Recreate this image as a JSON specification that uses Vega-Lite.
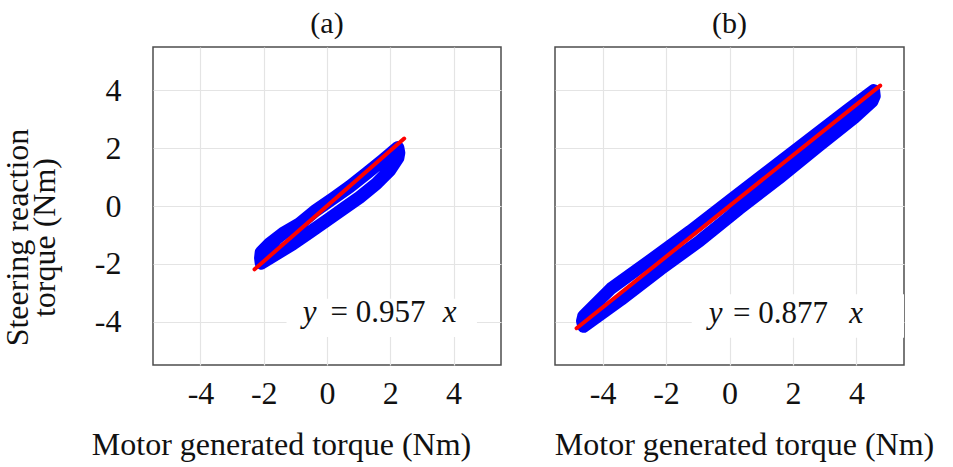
{
  "$schema": "https://vega.github.io/schema/vega-lite/v6.json",
  "background": "white",
  "padding": {"left": 0, "top": 8, "right": 5, "bottom": 5},
  "datasets": {
    "loopA": [
      {"o": 1, "x": -2.08, "y": -1.6},
      {"o": 2, "x": -1.81, "y": -1.3},
      {"o": 3, "x": -1.39, "y": -0.95},
      {"o": 4, "x": -0.86, "y": -0.61},
      {"o": 5, "x": -0.34, "y": -0.14},
      {"o": 6, "x": 0.19, "y": 0.26},
      {"o": 7, "x": 0.72, "y": 0.67},
      {"o": 8, "x": 1.25, "y": 1.13},
      {"o": 9, "x": 1.77, "y": 1.59},
      {"o": 10, "x": 2.24, "y": 2.02},
      {"o": 11, "x": 2.27, "y": 1.84},
      {"o": 12, "x": 2.24, "y": 1.66},
      {"o": 13, "x": 1.98, "y": 1.23},
      {"o": 14, "x": 1.56, "y": 0.77},
      {"o": 15, "x": 1.03, "y": 0.3},
      {"o": 16, "x": 0.51, "y": -0.1},
      {"o": 17, "x": -0.02, "y": -0.51},
      {"o": 18, "x": -0.55, "y": -0.91},
      {"o": 19, "x": -1.08, "y": -1.31},
      {"o": 20, "x": -1.6, "y": -1.66},
      {"o": 21, "x": -2.08, "y": -1.98},
      {"o": 22, "x": -2.1, "y": -1.8},
      {"o": 23, "x": -2.08, "y": -1.6}
    ],
    "loopB": [
      {"o": 1, "x": -4.6, "y": -3.8},
      {"o": 2, "x": -3.73, "y": -2.85},
      {"o": 3, "x": -2.48, "y": -1.86},
      {"o": 4, "x": -1.24, "y": -0.87},
      {"o": 5, "x": 0, "y": 0.18},
      {"o": 6, "x": 1.24, "y": 1.23},
      {"o": 7, "x": 2.48, "y": 2.28},
      {"o": 8, "x": 3.73, "y": 3.33},
      {"o": 9, "x": 4.55, "y": 4.0},
      {"o": 10, "x": 4.57, "y": 3.8},
      {"o": 11, "x": 4.5, "y": 3.62},
      {"o": 12, "x": 3.93, "y": 3.05},
      {"o": 13, "x": 2.8, "y": 2.06},
      {"o": 14, "x": 1.55, "y": 0.95},
      {"o": 15, "x": 0.31, "y": -0.1},
      {"o": 16, "x": -0.93, "y": -1.2},
      {"o": 17, "x": -2.17, "y": -2.19},
      {"o": 18, "x": -3.42, "y": -3.24},
      {"o": 19, "x": -4.6, "y": -4.17},
      {"o": 20, "x": -4.64, "y": -3.98},
      {"o": 21, "x": -4.6, "y": -3.8}
    ],
    "fitA": [{"x": -2.29, "y": -2.19}, {"x": 2.44, "y": 2.335}],
    "fitB": [{"x": -4.82, "y": -4.227}, {"x": 4.75, "y": 4.166}],
    "boxA": [{"x": -1.28, "x2": 4.74, "y": -3.21, "y2": -4.53}],
    "boxB": [{"x": -1.19, "x2": 5.5, "y": -3.05, "y2": -4.56}],
    "txtA": [
      {"x": -0.55, "y": -4.02, "t": "y", "s": "i"},
      {"x": 1.61, "y": -4.02, "t": "= 0.957", "s": "n"},
      {"x": 3.88, "y": -4.02, "t": "x", "s": "i"}
    ],
    "txtB": [
      {"x": -0.44, "y": -4.04, "t": "y", "s": "i"},
      {"x": 1.61, "y": -4.04, "t": "= 0.877", "s": "n"},
      {"x": 3.99, "y": -4.04, "t": "x", "s": "i"}
    ]
  },
  "hconcat": [
    {
      "title": "(a)",
      "width": 348,
      "height": 318,
      "encoding": {
        "x": {"field": "x", "type": "quantitative", "scale": {"domain": [-5.5, 5.5], "nice": false, "zero": false},
              "axis": {"values": [-4, -2, 0, 2, 4], "labelExpr": "'' + datum.value", "title": "Motor generated torque (Nm)", "labelPadding": 13, "titlePadding": 20, "titleX": 128}},
        "y": {"field": "y", "type": "quantitative", "scale": {"domain": [-5.5, 5.5], "nice": false, "zero": false},
              "axis": {"values": [-4, -2, 0, 2, 4], "labelExpr": "'' + datum.value", "title": ["Steering reaction", "torque (Nm)"], "labelPadding": 32, "titlePadding": 33, "titleY": 190, "titleLineHeight": 27}}
      },
      "layer": [
        {"data": {"name": "boxA"}, "mark": {"type": "rect", "fill": "white"}, "encoding": {"x2": {"field": "x2"}, "y2": {"field": "y2"}}},
        {"data": {"name": "loopA"}, "mark": {"type": "line", "color": "#0000ff", "strokeWidth": 13, "strokeJoin": "round", "strokeCap": "round"}, "encoding": {"order": {"field": "o"}}},
        {"data": {"name": "fitA"}, "mark": {"type": "line", "color": "#ff0000", "strokeWidth": 4, "strokeCap": "round"}, "encoding": {}},
        {"data": {"name": "txtA"}, "transform": [{"filter": "datum.s == 'i'"}], "mark": {"type": "text", "fontSize": 31, "fontStyle": "italic", "font": "Liberation Serif", "baseline": "alphabetic", "color": "#111"}, "encoding": {"text": {"field": "t"}}},
        {"data": {"name": "txtA"}, "transform": [{"filter": "datum.s == 'n'"}], "mark": {"type": "text", "fontSize": 31, "font": "Liberation Serif", "baseline": "alphabetic", "color": "#111"}, "encoding": {"text": {"field": "t"}}}
      ]
    },
    {
      "title": "(b)",
      "width": 349,
      "height": 318,
      "encoding": {
        "x": {"field": "x", "type": "quantitative", "scale": {"domain": [-5.5, 5.5], "nice": false, "zero": false},
              "axis": {"values": [-4, -2, 0, 2, 4], "labelExpr": "'' + datum.value", "title": "Motor generated torque (Nm)", "labelPadding": 13, "titlePadding": 20, "titleX": 189}},
        "y": {"field": "y", "type": "quantitative", "scale": {"domain": [-5.5, 5.5], "nice": false, "zero": false},
              "axis": {"values": [-4, -2, 0, 2, 4], "title": null, "labels": false}}
      },
      "layer": [
        {"data": {"name": "boxB"}, "mark": {"type": "rect", "fill": "white"}, "encoding": {"x2": {"field": "x2"}, "y2": {"field": "y2"}}},
        {"data": {"name": "loopB"}, "mark": {"type": "line", "color": "#0000ff", "strokeWidth": 12.5, "strokeJoin": "round", "strokeCap": "round"}, "encoding": {"order": {"field": "o"}}},
        {"data": {"name": "fitB"}, "mark": {"type": "line", "color": "#ff0000", "strokeWidth": 4, "strokeCap": "round"}, "encoding": {}},
        {"data": {"name": "txtB"}, "transform": [{"filter": "datum.s == 'i'"}], "mark": {"type": "text", "fontSize": 31, "fontStyle": "italic", "font": "Liberation Serif", "baseline": "alphabetic", "color": "#111"}, "encoding": {"text": {"field": "t"}}},
        {"data": {"name": "txtB"}, "transform": [{"filter": "datum.s == 'n'"}], "mark": {"type": "text", "fontSize": 31, "font": "Liberation Serif", "baseline": "alphabetic", "color": "#111"}, "encoding": {"text": {"field": "t"}}}
      ]
    }
  ],
  "config": {
    "font": "Liberation Serif",
    "view": {"stroke": "#4d4d4d", "strokeWidth": 1.5},
    "concat": {"spacing": 51},
    "axis": {"grid": true, "gridColor": "#e4e4e4", "gridWidth": 1.2, "domain": false, "ticks": false,
             "labelFont": "Liberation Serif", "labelFontSize": 32, "labelColor": "#111",
             "titleFont": "Liberation Serif", "titleFontSize": 32, "titleFontWeight": "normal", "titleColor": "#111"},
    "title": {"font": "Liberation Serif", "fontSize": 30, "fontWeight": "normal", "color": "#111", "offset": 8}
  }
}
